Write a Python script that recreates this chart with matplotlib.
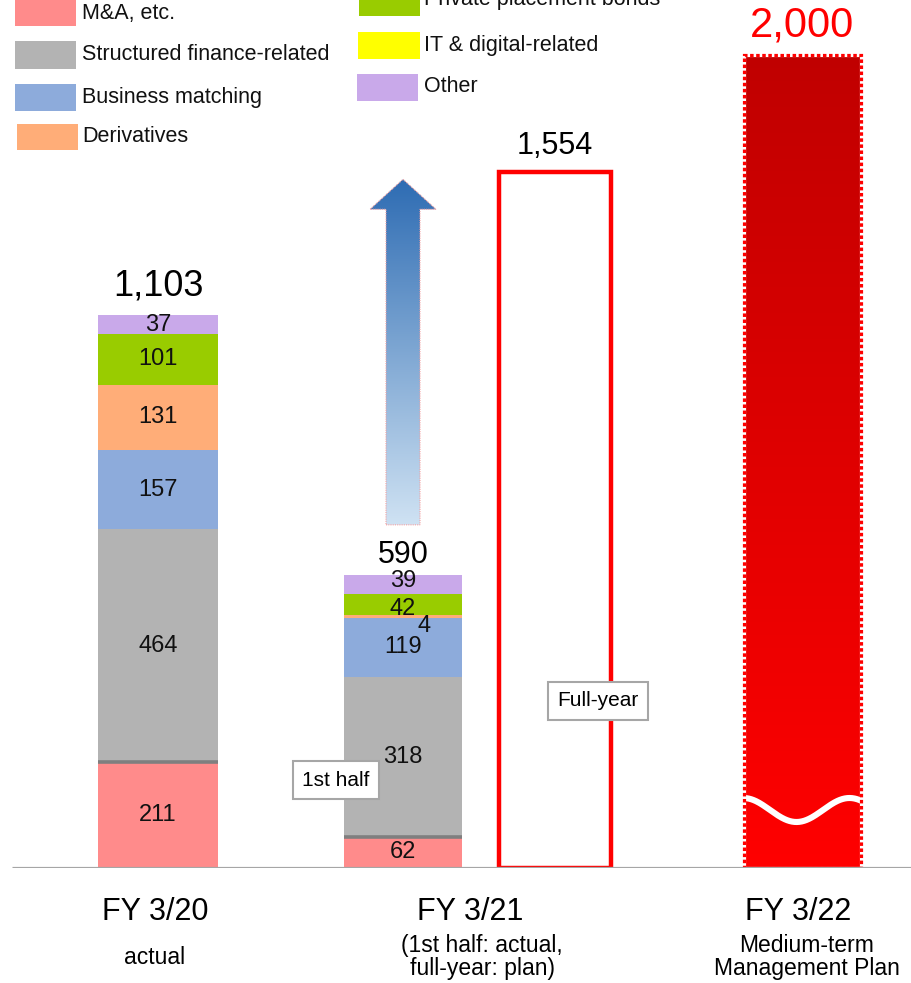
import numpy as np
import matplotlib
matplotlib.use("Agg")
import matplotlib.pyplot as plt
from matplotlib.patches import Rectangle, Polygon
from matplotlib import transforms

plt.rcParams['font.family'] = ['Liberation Sans', 'DejaVu Sans']

# ---------------- data ----------------
segment_names = ["M&A, etc.", "Structured finance-related", "Business matching",
                 "Derivatives", "Private placement bonds", "IT & digital-related", "Other"]
segment_colors = ["#ff8b8b", "#b3b3b3", "#8dabdb", "#ffad78", "#99cc00", "#ffff00", "#c9a9ea"]

# stacked results: FY 3/20 actual, FY 3/21 first half actual
ma_etc = [211, 62]
structured_finance = [464, 318]
business_matching = [157, 119]
derivatives = [131, 4]
private_placement = [101, 42]
it_digital = [0, 0]
other = [37, 39]
stack_totals = [1103, 590]

full_year_plan = 1554      # FY 3/21 full-year plan
mtp_target = 2000          # FY 3/22 medium-term management plan

period_labels = ["FY 3/20", "FY 3/21", "FY 3/22"]
period_notes = ["actual", "(1st half: actual,\nfull-year: plan)", "Medium-term\nManagement Plan"]

# ---------------- layout ----------------
W, H = 911, 983
BASE = 868                 # baseline, pixels from top
PX_PER_UNIT = 0.502

bar_x = [158, 403, 555, 802]
bar_w = [120, 118, 112, 117]

# label offsets (points) for crowded thin segments: (bar index, series index) -> (dx, dy)
label_nudge = {(1, 6): (0, 2.5), (1, 4): (0, -3), (1, 3): (15, -7)}

fig = plt.figure(figsize=(W / 100, H / 100), dpi=100)
ax = fig.add_axes([0, (H - BASE) / H, 1, BASE / H])
ax.set_axis_off()

# compressed scale above the knee, so the medium-term target fits on the page
KNEE, RATIO = 1200.0, 0.525


def fwd(v):
    v = np.asarray(v, dtype=float)
    return np.where(v <= KNEE, v, KNEE + (v - KNEE) * RATIO)


def inv(u):
    u = np.asarray(u, dtype=float)
    return np.where(u <= KNEE, u, KNEE + (u - KNEE) / RATIO)


ax.set_yscale('function', functions=(fwd, inv))
ax.set_xlim(0, W)
ax.set_ylim(0, float(inv(BASE / PX_PER_UNIT)))
ax.set_autoscale_on(False)


def frac_y(px_from_top):
    return (BASE - px_from_top) / BASE


# ---------------- stacked bars ----------------
series = [ma_etc, structured_finance, business_matching, derivatives,
          private_placement, it_digital, other]
bottoms = np.zeros(2)
for s, (vals, col) in enumerate(zip(series, segment_colors)):
    vals = np.asarray(vals, dtype=float)
    ax.bar(bar_x[:2], vals, width=bar_w[:2], bottom=bottoms, color=col,
           edgecolor='none', zorder=2)
    for i, v in enumerate(vals):
        if v <= 0:
            continue
        mid = bottoms[i] + v / 2
        dx, dy = label_nudge.get((i, s), (0, 0))
        ax.annotate(f"{int(v)}", (bar_x[i], mid), xytext=(dx, dy),
                    textcoords='offset points', ha='center', va='center',
                    fontsize=17, color='#111111', zorder=6)
    bottoms += vals

# divider at the top of the M&A segment
for i in range(2):
    ax.hlines(ma_etc[i], bar_x[i] - bar_w[i] / 2, bar_x[i] + bar_w[i] / 2,
              color='#7f7f7f', lw=2.6, zorder=4)

# totals of stacked bars
for i, (tot, off, fs) in enumerate(zip(stack_totals, [13.5, 6.5], [26, 22])):
    ax.annotate(f"{tot:,}", (bar_x[i], tot), xytext=(0, off),
                textcoords='offset points', ha='center', va='baseline',
                fontsize=fs, color='black')

# ---------------- full-year plan outline bar ----------------
ax.bar(bar_x[2], full_year_plan, width=bar_w[2], facecolor='white',
       edgecolor='#ff0000', lw=3.2, zorder=2)
ax.annotate(f"{full_year_plan:,}", (bar_x[2], full_year_plan), xytext=(0, 13.5),
            textcoords='offset points', ha='center', va='baseline',
            fontsize=22, color='black')

# ---------------- medium-term target bar ----------------
target_bar = ax.bar(bar_x[3], mtp_target, width=bar_w[3], color='#ff0000',
                    edgecolor='none', zorder=2)[0]
top_frac = ax.transAxes.inverted().transform(
    ax.transData.transform((bar_x[3], mtp_target)))[1]
x_l = bar_x[3] - bar_w[3] / 2
x_r = bar_x[3] + bar_w[3] / 2
grad = np.linspace(0, 1, 256)[:, None]
c_top = np.array([0xc0, 0x00, 0x00]) / 255
c_bot = np.array([0xff, 0x00, 0x00]) / 255
red_img = (c_top[None, None, :] * (1 - grad[..., None]) + c_bot[None, None, :] * grad[..., None])
im = ax.imshow(red_img, extent=[x_l / W, x_r / W, 0, top_frac], origin='upper',
               transform=ax.transAxes, aspect='auto', interpolation='bilinear', zorder=3)
im.set_clip_path(target_bar)

# wavy break mark
blend = transforms.blended_transform_factory(ax.transData, ax.transAxes)
wx = np.linspace(x_l - 2, x_r + 2, 200)
wy_px = 810 + 12 * np.sin(2 * np.pi * (wx - (x_l + 26.5)) / 106)
wave, = ax.plot(wx, frac_y(wy_px), color='white', lw=4.4, transform=blend,
                solid_capstyle='butt', zorder=4)
wave.set_clip_path(target_bar)

# dotted border
for ec, ls in [('white', '-'), ('#ff0000', (0, (1.1, 0.8)))]:
    ax.add_patch(Rectangle(target_bar.get_xy(), target_bar.get_width(),
                           target_bar.get_height(), fill=False, edgecolor=ec,
                           lw=2.3, linestyle=ls, zorder=5))
ax.annotate(f"{mtp_target:,}", (bar_x[3], mtp_target), xytext=(0, 13),
            textcoords='offset points', ha='center', va='baseline',
            fontsize=30, color='#ff0000')

# ---------------- baseline ----------------
ax.hlines(0, 12, W, color='#a6a6a6', lw=2.3, zorder=7)

# ---------------- growth arrow ----------------
tip_disp = ax.transData.transform((bar_x[1], full_year_plan))[1]
base_disp = ax.transData.transform((bar_x[1], stack_totals[1]))[1]
tip_f = ax.transAxes.inverted().transform((0, tip_disp - 7))[1]
bot_f = ax.transAxes.inverted().transform((0, base_disp + 47))[1]
head_f = tip_f - 30 / BASE
cx = bar_x[1] / W
sw, hw = 17 / W, 33 / W
arrow_xy = [(cx - sw, bot_f), (cx + sw, bot_f), (cx + sw, head_f), (cx + hw, head_f),
            (cx, tip_f), (cx - hw, head_f), (cx - sw, head_f)]
arrow_poly = Polygon(arrow_xy, closed=True, transform=ax.transAxes,
                     facecolor='none', edgecolor='#f4a0a0', lw=0.8,
                     linestyle=(0, (1, 1)), zorder=4)
ax.add_patch(arrow_poly)
b_top = np.array([0x2e, 0x6c, 0xb3]) / 255
b_bot = np.array([0xcf, 0xe2, 0xf3]) / 255
blue_img = (b_top[None, None, :] * (1 - grad[..., None]) + b_bot[None, None, :] * grad[..., None])
aim = ax.imshow(blue_img, extent=[cx - hw, cx + hw, bot_f, tip_f], origin='upper',
                transform=ax.transAxes, aspect='auto', interpolation='bilinear', zorder=3)
aim.set_clip_path(arrow_poly)

# ---------------- callout boxes ----------------
box_style = dict(boxstyle='square,pad=0.45', facecolor='white', edgecolor='#a6a6a6', lw=1.5)
ax.text(336 / W, frac_y(780), "1st half", transform=ax.transAxes, ha='center',
        va='center', fontsize=15, bbox=box_style, zorder=8)
ax.text(598 / W, frac_y(701), "Full-year", transform=ax.transAxes, ha='center',
        va='center', fontsize=15, bbox=box_style, zorder=8)

# ---------------- period labels ----------------
label_x = [155, 470, 798]
note_x = [155, 482, 807]
note_y = [958, 957, 957]
for lx, nx, ny, lab, note in zip(label_x, note_x, note_y, period_labels, period_notes):
    fig.text(lx / W, 1 - 912 / H, lab, ha='center', va='center', fontsize=22)
    fig.text(nx / W, 1 - ny / H, note, ha='center', va='center', fontsize=16.5,
             linespacing=1.02)

# ---------------- legend ----------------
legend_items = [
    # (box left, box top, box w, box h, text x, text y)
    (15, -1, 61, 27, 82, 13),
    (15, 41, 61, 28, 82, 55),
    (15, 84, 61, 27, 82, 98),
    (17, 124, 61, 26, 82, 137),
    (359, -12, 61, 28, 424, 0),
    (358, 32, 62, 27, 424, 46),
    (357, 74, 61, 27, 424, 87),
]
for (bx, by, bw, bh, tx, ty), name, col in zip(legend_items, segment_names, segment_colors):
    fig.add_artist(Rectangle((bx / W, 1 - (by + bh) / H), bw / W, bh / H,
                             transform=fig.transFigure, facecolor=col, edgecolor='none'))
    fig.text(tx / W, 1 - ty / H, name, ha='left', va='center', fontsize=15.5,
             color='#111111')

fig.savefig("out.png", dpi=100)
